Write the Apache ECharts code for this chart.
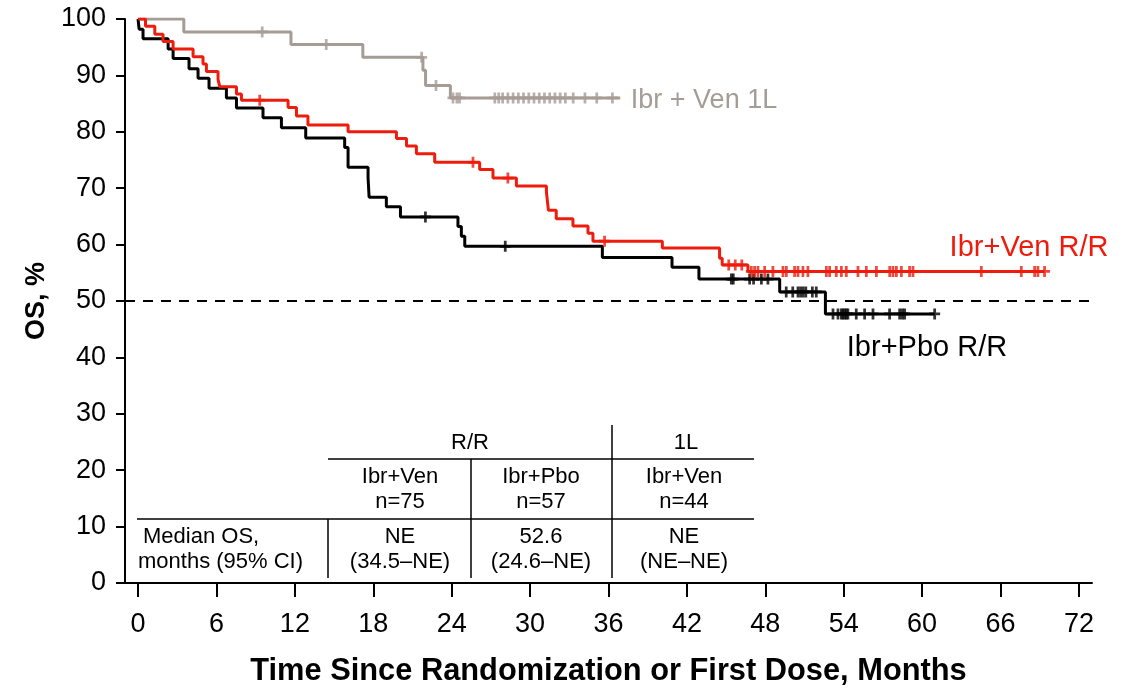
<!DOCTYPE html>
<html>
<head>
<meta charset="utf-8">
<script src="https://cdn.jsdelivr.net/npm/echarts@6/dist/echarts.min.js"></script>
<style>
  html, body { margin: 0; padding: 0; background: #fff; }
  #chart { width: 1127px; height: 692px; }
</style>
</head>
<body>
<div id="chart"></div>
<script>
// x ticks (months)
var xTicks = [0, 6, 12, 18, 24, 30, 36, 42, 48, 54, 60, 66, 72];

// Ibr+Ven 1L (gray): event times / survival after the step
var grayT = [0, 3.5, 11.7, 17.2, 21.8, 22.0, 23.9, 36.9];
var grayS = [100, 97.7, 95.5, 93.2, 90.9, 88.2, 86.0, 86.0];
var grayCens = [9.5, 14.4, 21.7, 22.8, 24.1, 24.4, 24.6, 27.3, 27.6, 27.9, 28.3, 28.7, 29.1, 29.5,
                29.9, 30.3, 30.7, 31.1, 31.5, 31.9, 32.3, 32.7, 33.3, 34.2, 35.1, 36.3];

// Ibr+Ven R/R (red)
var redT = [0, 0.57, 1.28, 1.91, 2.68, 4.21, 4.97, 5.23, 6.12, 6.25, 7.53, 7.91, 11.48, 12.12, 13.0,
            16.07, 19.77, 20.54, 21.3, 22.7, 26.14, 27.16, 28.95, 31.25, 31.4, 32.0, 33.28, 34.43,
            34.81, 40.12, 44.5, 44.7, 46.67, 69.37];
var redS = [100, 98.7, 97.3, 96.0, 94.7, 93.3, 92.0, 90.7, 89.3, 88.0, 86.7, 85.6, 84.3, 82.8, 81.2,
            80.0, 78.8, 77.5, 76.1, 74.6, 73.3, 71.8, 70.4, 69.3, 66.1, 64.6, 63.3, 62.0,
            60.6, 59.4, 57.6, 56.4, 55.25, 55.25];
var redCens = [9.31, 25.63, 28.3, 35.7, 45.2, 45.7, 46.2, 46.93, 47.18, 47.44, 47.95, 48.58, 49.35,
               49.61, 50.24, 50.5, 50.88, 51.26, 52.67, 52.92, 53.43, 53.82, 54.2, 55.09, 55.73,
               56.5, 57.52, 57.77, 58.03, 58.41, 59.04, 59.3, 64.53, 67.59, 68.61, 68.86, 69.37];

// Ibr+Pbo R/R (black)
var blackT = [0, 0.08, 0.38, 2.3, 2.68, 3.9, 4.59, 5.43, 6.76, 7.53, 9.56, 10.97, 12.83, 15.81,
              16.07, 17.6, 17.68, 19.0, 20.08, 24.48, 24.74, 25.0, 35.53, 40.86, 42.92, 49.1,
              52.6, 60.96];
var blackS = [100, 98.2, 96.5, 94.7, 93.0, 91.2, 89.5, 87.7, 86.0, 84.2, 82.5, 80.7, 78.9, 77.2,
              73.7, 71.9, 68.4, 66.7, 64.9, 63.2, 61.5, 59.7, 57.7, 56.0, 53.9, 51.6,
              47.7, 47.7];
var blackCens = [21.99, 28.1, 45.4, 45.55, 46.8, 47.1, 47.7, 48.2, 49.6, 50.1, 50.5, 50.7, 50.9,
                 51.1, 51.6, 51.9, 53.18, 53.56, 53.82, 53.94, 54.07, 54.2, 54.32, 54.96, 55.6,
                 56.24, 57.51, 58.28, 58.49, 58.66, 60.96];

// median table
var tableGroups = ['R/R', '1L'];
var tableArms = ['Ibr+Ven', 'Ibr+Pbo', 'Ibr+Ven'];
var tableN = ['n=75', 'n=57', 'n=44'];
var tableMedian = ['NE', '52.6', 'NE'];
var tableCI = ['(34.5\u2013NE)', '(24.6\u2013NE)', '(NE\u2013NE)'];

var GRAY = '#a69c96', RED = '#ee1c0c', BLACK = '#000';
var FONT = 'Liberation Sans';

function pairs(t, s) {
    var out = [];
    for (var i = 0; i < t.length; i++) out.push([t[i], s[i]]);
    return out;
}

// level of the step curve at time x
function levelAt(t, s, x) {
    var v = s[0];
    for (var i = 0; i < t.length; i++) {
        if (t[i] <= x) v = s[i];
    }
    return v;
}

function censPts(t, s, c) {
    return c.map(function (x) { return [x, levelAt(t, s, x)]; });
}

var plus = 'path://M-1.5,-6L1.5,-6L1.5,-1.5L6,-1.5L6,1.5L1.5,1.5L1.5,6L-1.5,6L-1.5,1.5L-6,1.5L-6,-1.5L-1.5,-1.5Z';

function curve(name, t, s, color) {
    return {
        type: 'line', name: name, step: 'end', showSymbol: false,
        data: pairs(t, s),
        lineStyle: { color: color, width: 3 },
        itemStyle: { color: color },
        z: 2
    };
}
function cens(t, s, c, color) {
    return {
        type: 'scatter', symbol: plus, symbolSize: 11,
        data: censPts(t, s, c),
        itemStyle: { color: color },
        z: 3
    };
}

var chart = echarts.init(document.getElementById('chart'));

var txt = { fontFamily: FONT, fontSize: 22, fill: '#000', textAlign: 'center', textVerticalAlign: 'middle' };
function T(x, y, s, extra) {
    return { type: 'text', x: x, y: y, style: Object.assign({}, txt, { text: s }, extra || {}) };
}
function L(x1, y1, x2, y2) {
    return { type: 'line', shape: { x1: x1, y1: y1, x2: x2, y2: y2 }, style: { stroke: '#000', lineWidth: 1.5 } };
}

var colX = [400, 541, 684];
var gfx = [
    L(328, 459, 754, 459),
    L(137, 519, 754, 519),
    L(328, 519, 328, 578),
    L(471, 459, 471, 578),
    L(612, 425, 612, 578),
    T(470, 443, tableGroups[0]),
    T(686, 443, tableGroups[1]),
    T(143, 537, 'Median OS,', { textAlign: 'left' }),
    T(138, 562, 'months (95% CI)', { textAlign: 'left' }),
    T(704, 101, 'Ibr + Ven 1L', { fontSize: 27, fill: GRAY }),
    T(1029, 248, 'Ibr+Ven R/R', { fontSize: 29, fill: RED }),
    T(927, 348, 'Ibr+Pbo R/R', { fontSize: 29, fill: BLACK })
];
for (var i = 0; i < 3; i++) {
    gfx.push(T(colX[i], 477, tableArms[i]));
    gfx.push(T(colX[i], 502, tableN[i]));
    gfx.push(T(colX[i], 537, tableMedian[i]));
    gfx.push(T(colX[i], 562, tableCI[i]));
}

var option = {
    animation: false,
    textStyle: { fontFamily: FONT },
    grid: { left: 125, right: 35, top: 19, bottom: 105 },
    xAxis: {
        type: 'value', min: -1, max: 73,
        name: 'Time Since Randomization or First Dose, Months',
        nameLocation: 'middle', nameGap: 73,
        nameTextStyle: { fontSize: 30.8, fontWeight: 'bold', color: '#000', fontFamily: FONT },
        axisLine: { show: true, onZero: false, lineStyle: { color: '#000', width: 2 } },
        axisTick: { show: true, customValues: xTicks, length: 14, lineStyle: { color: '#000', width: 2 } },
        axisLabel: { customValues: xTicks, fontSize: 27, color: '#000', margin: 28 },
        splitLine: { show: false }
    },
    yAxis: {
        type: 'value', min: 0, max: 100, interval: 10,
        name: 'OS, %', nameLocation: 'middle', nameGap: 65,
        nameTextStyle: { fontSize: 27, fontWeight: 'bold', color: '#000', fontFamily: FONT },
        axisLine: { show: true, onZero: false, lineStyle: { color: '#000', width: 2 } },
        axisTick: { show: true, length: 9, lineStyle: { color: '#000', width: 2 } },
        axisLabel: { fontSize: 27, color: '#000', margin: 19 },
        splitLine: { show: false }
    },
    series: [
        {
            type: 'line', data: [], silent: true,
            markLine: {
                silent: true, symbol: 'none', label: { show: false },
                lineStyle: { color: '#000', type: [10, 8], width: 2 },
                data: [{ yAxis: 50 }]
            }
        },
        curve('Ibr+Ven 1L', grayT, grayS, GRAY),
        cens(grayT, grayS, grayCens, GRAY),
        curve('Ibr+Pbo R/R', blackT, blackS, BLACK),
        cens(blackT, blackS, blackCens, BLACK),
        curve('Ibr+Ven R/R', redT, redS, RED),
        cens(redT, redS, redCens, RED)
    ],
    graphic: gfx
};
chart.setOption(option);
</script>
</body>
</html>
